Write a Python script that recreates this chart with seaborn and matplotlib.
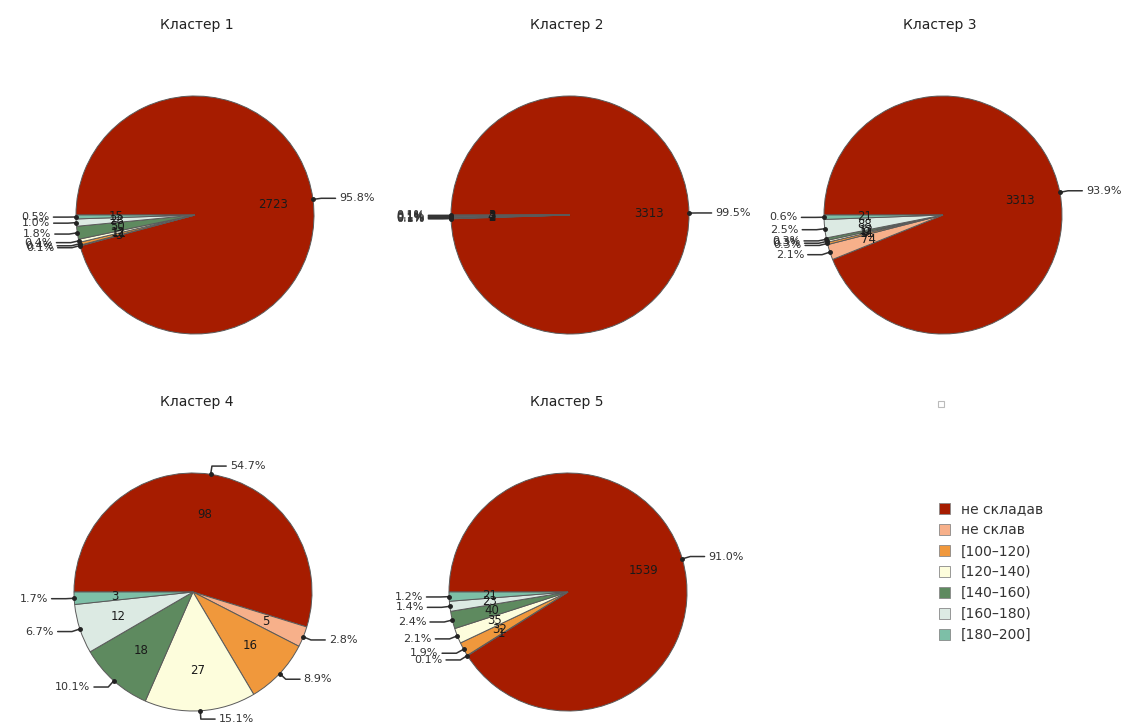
import numpy as np
import matplotlib
matplotlib.use("Agg")
import matplotlib.pyplot as plt
from matplotlib.patches import Patch, Rectangle
import seaborn as sns

# ---- data -------------------------------------------------------------
categories = ["не складав", "не склав", "[100–120)", "[120–140)",
              "[140–160)", "[160–180)", "[180–200]"]
cluster_titles = ["Кластер 1", "Кластер 2", "Кластер 3", "Кластер 4", "Кластер 5"]
cluster1 = [2723, 3, 11, 12, 50, 28, 15]
cluster2 = [3313, 2, 3, 2, 4, 3, 3]
cluster3 = [3313, 74, 11, 9, 12, 88, 21]
cluster4 = [98, 5, 16, 27, 18, 12, 3]
cluster5 = [1539, 1, 32, 35, 40, 23, 21]
clusters = [cluster1, cluster2, cluster3, cluster4, cluster5]

colors = ["#A61C00", "#F7B08A", "#F0983C", "#FDFDDC",
          "#5E8A5F", "#DCEAE3", "#7DBFA7"]

# ---- style --------------------------------------------------------------
sns.set_theme(style="white")
plt.rcParams["font.family"] = ["DejaVu Sans"]
palette = sns.color_palette(colors)

W, H = 1130, 722
fig = plt.figure(figsize=(W / 100, H / 100), dpi=100)
fig.patch.set_facecolor("white")

R_PX = 119          # pie radius in pixels
HALF = 1.55         # axes half-extent in radius units
centers = [(195, 215), (570, 215), (943, 215), (193, 592), (568, 592)]
title_pos = [(197, 25), (567, 25), (940, 25), (197, 402), (567, 402)]


def pie_axes(cx, cy):
    half_px = HALF * R_PX
    left = (cx - half_px) / W
    bottom = 1 - (cy + half_px) / H
    ax = fig.add_axes([left, bottom, 2 * half_px / W, 2 * half_px / H])
    ax.axis("off")
    return ax


for values, (cx, cy), title, (tx, ty) in zip(clusters, centers, cluster_titles, title_pos):
    ax = pie_axes(cx, cy)
    wedges, _ = ax.pie(values, colors=palette, startangle=180, counterclock=False,
                       radius=1.0, center=(0, 0), frame=False,
                       wedgeprops=dict(edgecolor="#5a5a5a", linewidth=0.7))
    ax.set_xlim(-HALF, HALF)
    ax.set_ylim(-HALF, HALF)
    ax.set_aspect("equal")
    ax.axis("off")
    total = sum(values)
    for w, v in zip(wedges, values):
        mid = np.deg2rad((w.theta1 + w.theta2) / 2)
        c, s = np.cos(mid), np.sin(mid)
        # count inside the slice
        ax.text(0.66 * c, 0.66 * s, f"{v}", ha="center", va="center",
                fontsize=8.5, color="#1a1a1a")
        # percentage outside with an elbow leader
        px, py = c, s
        qx, qy = 1.07 * c, 1.07 * s
        side = 1 if c >= 0 else -1
        sx = qx + side * 0.12
        ax.plot([px, qx, sx], [py, qy, qy], color="#333333", lw=1.1,
                solid_joinstyle="round", clip_on=False)
        ax.plot(px, py, "o", ms=2.5, color="#222222", clip_on=False)
        ax.text(sx + side * 0.03, qy, f"{100 * v / total:.1f}%",
                ha="left" if side > 0 else "right", va="center",
                fontsize=8, color="#333333")
    fig.text(tx / W, 1 - ty / H, title, ha="center", va="center",
             fontsize=10, color="#222222")

# empty sixth panel placeholder
fig.patches.append(Rectangle((938 / W, 1 - 407 / H), 6 / W, 6 / H,
                             transform=fig.transFigure, facecolor="white",
                             edgecolor="#bbbbbb", linewidth=0.8))

handles = [Patch(facecolor=col, edgecolor="#888888", linewidth=0.6) for col in palette]
fig.legend(handles, categories, loc="upper left",
           bbox_to_anchor=(926 / W, 1 - 490 / H), frameon=False,
           fontsize=10, handlelength=0.8, handleheight=0.8,
           handletextpad=0.8, labelspacing=0.5, labelcolor="#333333")

fig.savefig("out.png", dpi=100, facecolor="white")
